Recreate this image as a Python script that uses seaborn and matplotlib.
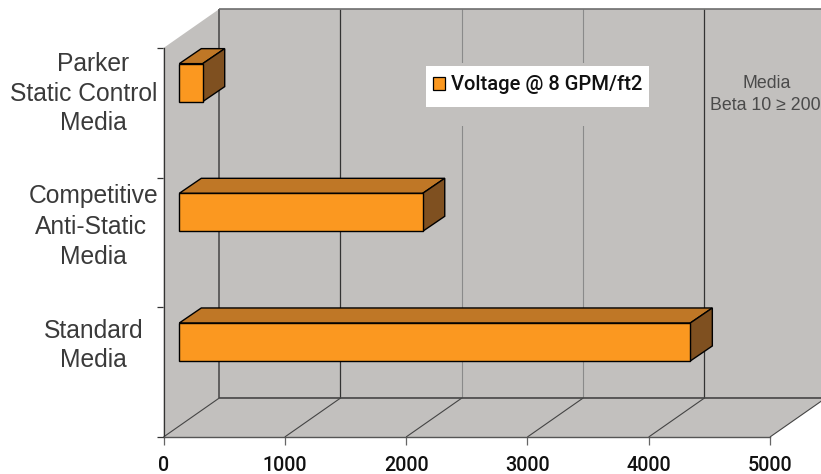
import matplotlib
matplotlib.use("Agg")
import matplotlib.pyplot as plt
from matplotlib.patches import Polygon, Rectangle
from matplotlib.transforms import IdentityTransform
import pandas as pd
import seaborn as sns

categories = ["Parker\nStatic Control\nMedia", "Competitive\nAnti-Static\nMedia", "Standard\nMedia"]
voltage = [193, 2007, 4213]
x_ticks = [0, 1000, 2000, 3000, 4000, 5000]
series_name = "Voltage @ 8 GPM/ft2"

W, H = 821, 474
WALL = "#C2C0BE"
FRONT, TOP, SIDE = "#FB9820", "#BF7726", "#7F5020"
DX, DY = 55.5, 38.8          # floor depth in px
BX, BY = 15.8, 30.2          # bar front offset in px
CX, CY = 22.0, 15.0          # bar depth in px

sns.set_theme(style="white")
plt.rcParams["font.family"] = ["Liberation Sans", "DejaVu Sans"]
fig = plt.figure(figsize=(W / 100, H / 100), dpi=100, facecolor="white")
ax = fig.add_axes([163.5 / W, (H - 437) / H, 606.5 / W, 389 / H])
ax.patch.set_visible(False)

df = pd.DataFrame({"category": categories, "voltage": voltage})
sns.barplot(data=df, y="category", x="voltage", orient="h", width=0.293, color=FRONT,
            saturation=1, edgecolor="black", linewidth=1.0, ax=ax, zorder=5)
ax.set_xlim(0, 5000)
ax.set_ylim(2.5, -0.5)
ax.set_xlabel("")
ax.set_ylabel("")


def px(x, y):
    return ax.transData.transform((x, y))


def add_poly(pts, zorder, **kw):
    fig_patch = Polygon(pts, closed=True, transform=IdentityTransform(), clip_on=False, zorder=zorder, **kw)
    ax.add_patch(fig_patch)


def add_line(p, q, color, lw, zorder=2):
    ax.plot([p[0], q[0]], [p[1], q[1]], color=color, lw=lw, transform=IdentityTransform(),
            clip_on=False, zorder=zorder, solid_capstyle="butt")


# walls and floor
x0b, x5b, ybot, ytop = px(0, 2.5)[0], px(5000, 2.5)[0], px(0, 2.5)[1], px(0, -0.5)[1]
add_poly([(x0b, ybot), (x5b, ybot), (x5b + DX, ybot + DY), (x0b + DX, ybot + DY)], 1, fc=WALL, ec="none")
add_poly([(x0b + DX, ybot + DY), (x5b + DX, ybot + DY), (x5b + DX, ytop + DY), (x0b + DX, ytop + DY)], 1, fc=WALL, ec="none")
add_poly([(x0b, ybot), (x0b + DX, ybot + DY), (x0b + DX, ytop + DY), (x0b, ytop)], 1, fc=WALL, ec="none")

# gridlines on wall and floor
grid_style = {0: ("#444444", 1.1), 1000: ("#333333", 0.9), 2000: ("#8A8A8A", 0.8),
              3000: ("#8A8A8A", 0.8), 4000: ("#333333", 0.9), 5000: None}
for t in x_ticks:
    xb = px(t, 2.5)[0]
    add_line((xb, ybot), (xb + DX, ybot + DY), "#444444", 0.8)
    st = grid_style[t]
    if st:
        add_line((xb + DX, ybot + DY), (xb + DX, ytop + DY), st[0], st[1])
add_line((x0b + DX, ybot + DY), (x5b + DX, ybot + DY), "#444444", 1.2)
add_line((x0b + DX, ytop + DY), (x5b + DX, ytop + DY), "#6E6E6E", 1.2)

# 3-D bars: shift seaborn's bars and add depth faces
for bar in list(ax.patches):
    if not isinstance(bar, Rectangle):
        continue
    x, y, w, h = bar.get_x(), bar.get_y(), bar.get_width(), bar.get_height()
    xl, yb = px(x, y + h)
    xr, yt = px(x + w, y)
    xl, xr, yb, yt = xl + BX, xr + BX, yb + BY, yt + BY
    ax.add_patch(Rectangle((xl, yb), xr - xl, yt - yb, transform=IdentityTransform(), clip_on=False,
                           fc=FRONT, ec="black", lw=1.0, zorder=6))
    add_poly([(xl, yt), (xr, yt), (xr + CX, yt + CY), (xl + CX, yt + CY)], 5, fc=TOP, ec="black", lw=1.0)
    add_poly([(xr, yb), (xr + CX, yb + CY), (xr + CX, yt + CY), (xr, yt)], 5, fc=SIDE, ec="black", lw=1.0)
    bar.set_visible(False)

# mask behind legend, white legend box, legend
ax.add_patch(Rectangle((426, H - 126), 223, 63, transform=IdentityTransform(), fc=WALL, ec="none",
                       clip_on=False, zorder=3))
ax.add_patch(Rectangle((426, H - 107), 223, 41, transform=IdentityTransform(), fc="white", ec="none",
                       clip_on=False, zorder=3.5))
handle = Rectangle((0, 0), 1, 1, fc=FRONT, ec="black", lw=0.9)
leg = ax.legend([handle], [series_name], loc="upper left",
                bbox_to_anchor=(433 / W, (H - 75.5) / H), bbox_transform=fig.transFigure,
                frameon=False, borderaxespad=0, borderpad=0, handlelength=0.62, handleheight=0.62,
                handletextpad=0.28, prop={"family": "Roboto", "size": 14.5, "weight": 500})
leg.set_zorder(7)
for t in leg.get_texts():
    t.set_color("#111111")

# axes
sns.despine(ax=ax, top=True, right=True)
ax.spines["left"].set_color("#333333")
ax.spines["left"].set_linewidth(0.9)
ax.spines["bottom"].set_color("#555555")
ax.spines["bottom"].set_linewidth(1.0)
ax.spines["left"].set_zorder(4)
ax.spines["bottom"].set_zorder(4)
ax.set_xticks(x_ticks)
ax.set_xticklabels([str(t) for t in x_ticks], fontsize=14.2, color="#111111", family="Roboto", fontweight=500)
ax.set_yticks([-0.5, 0.5, 1.5, 2.5])
ax.set_yticklabels([])
ax.tick_params(axis="x", length=6, width=0.9, color="#666666", pad=7.4, bottom=True)
ax.tick_params(axis="y", length=5, width=0.9, color="#333333", left=True)

# category labels, each line placed as in the reference
line_layout = [[(93.5, 64), (84, 94), (93.5, 123)],
               [(93.5, 196), (90.5, 227), (93.5, 257)],
               [(93.5, 331), (93.5, 360)]]
for name, layout in zip(categories, line_layout):
    for part, (lx, ly) in zip(name.split("\n"), layout):
        fig.text(lx / W, (H - ly) / H, part, ha="center", va="center", fontsize=17.7, color="#3A3A3A")

fig.text(767 / W, (H - 83) / H, "Media", ha="center", va="center", fontsize=12.8, color="#4A4A4A")
fig.text(765.5 / W, (H - 105) / H, "Beta 10 \u2265 200", ha="center", va="center", fontsize=12.8, color="#4A4A4A")

fig.savefig("out.png", dpi=100)
